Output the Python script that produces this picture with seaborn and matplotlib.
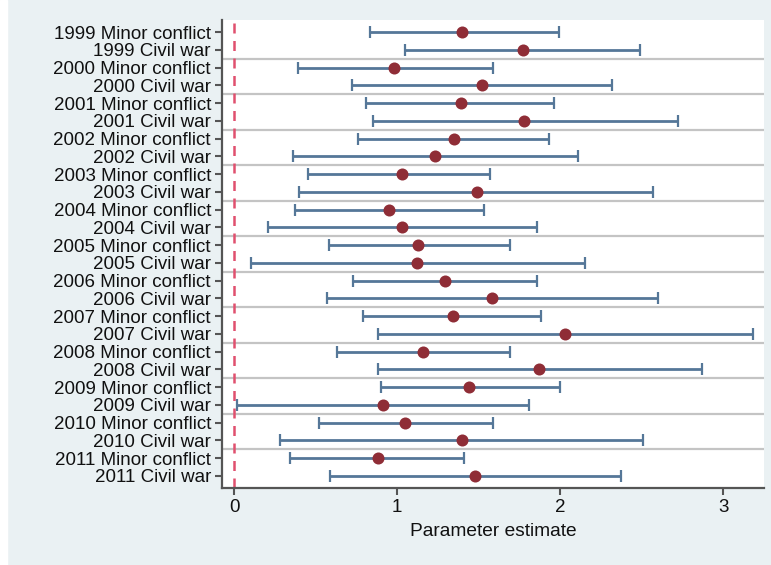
import matplotlib
matplotlib.use("Agg")
import matplotlib.pyplot as plt
import seaborn as sns
import pandas as pd
import numpy as np
from matplotlib.patches import Rectangle

# data -------------------------------------------------------------------
years = [1999, 2000, 2001, 2002, 2003, 2004, 2005, 2006, 2007, 2008, 2009, 2010, 2011]
kinds = ["Minor conflict", "Civil war"]

estimate = [1.40, 1.77, 0.98, 1.52, 1.39, 1.78, 1.35, 1.23, 1.03, 1.49,
            0.95, 1.03, 1.13, 1.12, 1.29, 1.58, 1.34, 2.03, 1.16, 1.87,
            1.44, 0.91, 1.05, 1.40, 0.88, 1.48]
lower = [0.83, 1.05, 0.39, 0.72, 0.81, 0.85, 0.76, 0.36, 0.45, 0.40,
         0.37, 0.21, 0.58, 0.10, 0.73, 0.57, 0.79, 0.88, 0.63, 0.88,
         0.90, 0.02, 0.52, 0.28, 0.34, 0.59]
upper = [1.99, 2.49, 1.59, 2.32, 1.96, 2.72, 1.93, 2.11, 1.57, 2.57,
         1.53, 1.86, 1.69, 2.15, 1.86, 2.60, 1.88, 3.18, 1.69, 2.87,
         2.00, 1.81, 1.59, 2.51, 1.41, 2.37]

labels = [f"{y} {k}" for y in years for k in kinds]

df = pd.DataFrame({"label": labels, "est": estimate, "lo": lower, "hi": upper})
df["pos"] = np.arange(len(df))

# style ------------------------------------------------------------------
sns.set_style("white")
plt.rcParams['font.family'] = ['Liberation Sans', 'DejaVu Sans']

bg = "#eaf1f3"
fig = plt.figure(figsize=(7.71, 5.65), dpi=100, facecolor=bg)
fig.patches.append(Rectangle((0, 0), 7 / 771, 1, transform=fig.transFigure,
                             color="white", zorder=-1))
ax = fig.add_axes([222 / 771, 1 - 488 / 565, (764 - 222) / 771, (488 - 20) / 565])
ax.set_facecolor("white")

# group separators
for p in np.arange(1.5, len(df) - 1, 2):
    ax.axhline(p, color="#c4c4c4", lw=1.6, zorder=0)

ax.axvline(0, color="#e0506e", lw=1.8, ls=(0, (4, 3)), zorder=1)

ax.errorbar(df["est"], df["pos"],
            xerr=[df["est"] - df["lo"], df["hi"] - df["est"]],
            fmt="none", ecolor="#557798", elinewidth=2, capsize=4.5,
            capthick=1.6, zorder=2)
sns.scatterplot(data=df, x="est", y="pos", ax=ax, color="#8f2d36",
                s=75, edgecolor="#8f2d36", linewidth=0, zorder=3)

ax.set_xlim(-0.075, 3.25)
ax.set_ylim(len(df) - 0.32, -0.68)
ax.set_yticks(df["pos"])
ax.set_yticklabels(df["label"])
ax.set_xticks([0, 1, 2, 3])
ax.set_xlabel("Parameter estimate", fontsize=13.8, color="#111111", labelpad=5)
ax.set_ylabel("")

for s in ["top", "right"]:
    ax.spines[s].set_visible(False)
for s in ["left", "bottom"]:
    ax.spines[s].set_color("#555555")
    ax.spines[s].set_linewidth(1.6)
ax.tick_params(axis="both", which="both", length=5, width=1.5,
               color="#555555", labelsize=13.5, labelcolor="#111111",
               left=True, bottom=True, pad=3)

fig.savefig("out.png", dpi=100, facecolor=bg)
